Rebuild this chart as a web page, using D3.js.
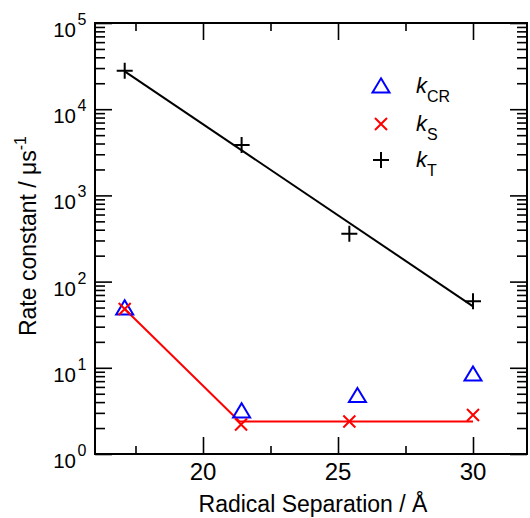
<!DOCTYPE html>
<html><head><meta charset="utf-8">
<script src="https://cdn.jsdelivr.net/npm/d3@7"></script>
<style>body{margin:0;background:#fff}svg{display:block;font-family:"Liberation Sans",Arial,sans-serif}</style>
</head><body><svg id="c" width="530" height="518"></svg>
<script>
// data
const sepCR = [17.1, 21.43, 25.72, 30.0];
const kCR   = [49.5, 3.16, 4.76, 8.45];
const sepS  = [17.1, 21.41, 25.42, 30.0];
const kS    = [48.2, 2.2, 2.38, 2.84];
const sepT  = [17.1, 21.43, 25.42, 30.0];
const kT    = [27900, 3845, 359, 59];
const fitTx = [17.1, 30.0];
const fitTy = [27500, 51.6];
const fitSx = [17.1, 21.35, 30.0];
const fitSy = [48.2, 2.38, 2.38];
const xMajor = [20, 25, 30];
const xMinor = [17.5, 22.5, 27.5];
const yExp = [0, 1, 2, 3, 4, 5];

const svg = d3.select("#c");
const L = 95, R = 527, T = 23, B = 454;
const x = d3.scaleLinear().domain([16, 32]).range([L, R]);
const y = d3.scaleLog().domain([1, 1e5]).range([B, T]);

const yMinor = [];
for (let e = 0; e < 5; e++) for (let m = 2; m <= 9; m++) yMinor.push(m * Math.pow(10, e));
const yMaj = yExp.map(e => Math.pow(10, e));

function ax(gen, tx, ty) {
  const g = svg.append("g").attr("transform", `translate(${tx},${ty})`).call(gen);
  g.select(".domain").remove();
  g.selectAll("text").remove();
  g.selectAll("line").attr("stroke", "#000").attr("stroke-width", 1.6);
  return g;
}
ax(d3.axisBottom(x).tickValues(xMajor).tickSize(-17), 0, B);
ax(d3.axisBottom(x).tickValues(xMinor).tickSize(-8), 0, B);
ax(d3.axisTop(x).tickValues(xMajor).tickSize(-17), 0, T);
ax(d3.axisTop(x).tickValues(xMinor).tickSize(-8), 0, T);
ax(d3.axisLeft(y).tickValues(yMaj).tickSize(-17), L, 0);
ax(d3.axisLeft(y).tickValues(yMinor).tickSize(-10), L, 0);
ax(d3.axisRight(y).tickValues(yMaj).tickSize(-17), R, 0);
ax(d3.axisRight(y).tickValues(yMinor).tickSize(-10), R, 0);

svg.append("rect").attr("x", L).attr("y", T).attr("width", R - L).attr("height", B - T)
  .attr("fill", "none").attr("stroke", "#000").attr("stroke-width", 2);

// x tick labels
svg.selectAll(".xl").data(xMajor).enter().append("text")
  .attr("x", d => x(d)).attr("y", B + 26).attr("text-anchor", "middle")
  .attr("font-size", 24).text(d => d);
// y tick labels
yExp.forEach(e => {
  svg.append("text").attr("x", 76).attr("y", y(Math.pow(10, e)) + 14)
    .attr("text-anchor", "end").attr("font-size", 20.5).text("10");
  svg.append("text").attr("x", 77.5).attr("y", y(Math.pow(10, e)) + 2)
    .attr("font-size", 16).text(e);
});

// axis titles
svg.append("text").attr("x", 313).attr("y", 512).attr("text-anchor", "middle")
  .attr("font-size", 23).text("Radical Separation / Å");
const yl = svg.append("text").attr("transform", "translate(36,236) rotate(-90)")
  .attr("text-anchor", "middle").attr("font-size", 23);
yl.append("tspan").text("Rate constant / μs");
yl.append("tspan").attr("font-size", 16).attr("dy", -10).text("-1");

// lines
const line = d3.line().x(d => x(d[0])).y(d => y(d[1]));
svg.append("path").datum(fitTx.map((v, i) => [v, fitTy[i]])).attr("d", line)
  .attr("fill", "none").attr("stroke", "#000").attr("stroke-width", 2);
svg.append("path").datum(fitSx.map((v, i) => [v, fitSy[i]])).attr("d", line)
  .attr("fill", "none").attr("stroke", "#ff0000").attr("stroke-width", 2);

// markers
const tri = (cx, cy, s) => `M${cx},${cy - s * 0.45}L${cx + s / 2},${cy + s * 0.38}L${cx - s / 2},${cy + s * 0.38}Z`;
const xm = (cx, cy, s) => `M${cx - s},${cy - s}L${cx + s},${cy + s}M${cx - s},${cy + s}L${cx + s},${cy - s}`;
const pm = (cx, cy, s) => `M${cx - s},${cy}L${cx + s},${cy}M${cx},${cy - s}L${cx},${cy + s}`;

svg.selectAll(".cr").data(sepCR.map((v, i) => [v, kCR[i]])).enter().append("path")
  .attr("d", d => tri(x(d[0]), y(d[1]), 17)).attr("fill", "none")
  .attr("stroke", "#0000ff").attr("stroke-width", 2);
svg.selectAll(".s").data(sepS.map((v, i) => [v, kS[i]])).enter().append("path")
  .attr("d", d => xm(x(d[0]), y(d[1]), 6)).attr("fill", "none")
  .attr("stroke", "#ff0000").attr("stroke-width", 2);
svg.selectAll(".t").data(sepT.map((v, i) => [v, kT[i]])).enter().append("path")
  .attr("d", d => pm(x(d[0]), y(d[1]), 8)).attr("fill", "none")
  .attr("stroke", "#000").attr("stroke-width", 2);

// legend
const leg = [
  {sym: "tri", col: "#0000ff", sub: "CR", y: 86},
  {sym: "x", col: "#ff0000", sub: "S", y: 124},
  {sym: "p", col: "#000", sub: "T", y: 160}
];
leg.forEach(l => {
  const d = l.sym === "tri" ? tri(381, l.y, 17) : l.sym === "x" ? xm(381, l.y, 6) : pm(381, l.y, 8);
  svg.append("path").attr("d", d).attr("fill", "none").attr("stroke", l.col).attr("stroke-width", 2);
  const t = svg.append("text").attr("x", 416).attr("y", l.y + 7).attr("font-size", 22);
  t.append("tspan").attr("font-style", "italic").text("k");
  t.append("tspan").attr("font-size", 16).attr("dy", 9).text(l.sub);
});
</script></body></html>
